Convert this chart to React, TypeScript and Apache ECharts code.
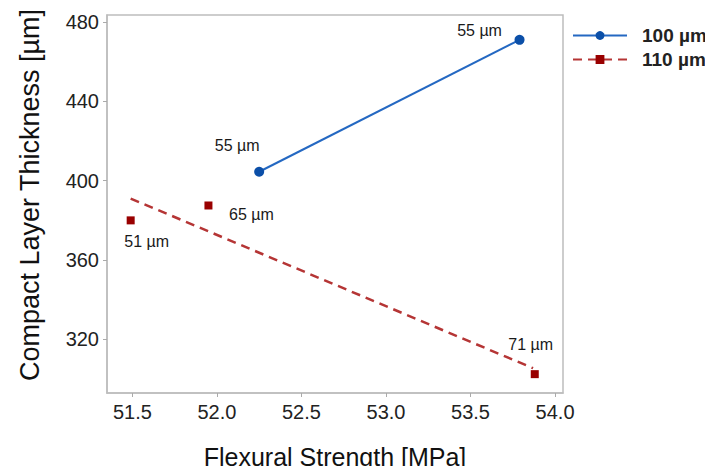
import React, { useEffect, useRef } from "react";
import * as echarts from "echarts";

const xTicks = [51.5, 52.0, 52.5, 53.0, 53.5, 54.0];
const yTicks = [320, 360, 400, 440, 480];

const series100Name = "100 µm";
const series110Name = "110 µm";

// 100 µm group: [flexural strength, compact layer thickness]
const points100: [number, number][] = [
  [52.25, 404.5],
  [53.79, 471],
];
const labels100 = ["55 µm", "55 µm"];

// 110 µm group
const points110: [number, number][] = [
  [51.49, 380],
  [51.95, 387.5],
  [53.88, 302.5],
];
const labels110 = ["51 µm", "65 µm", "71 µm"];

// 110 µm trend line end points
const trend110: [number, number][] = [
  [51.49, 391],
  [53.87, 305.5],
];

const FONT = "'Liberation Sans', Arial, Helvetica, sans-serif";

export default function App() {
  const ref = useRef<HTMLDivElement>(null);

  useEffect(() => {
    if (!ref.current) return;
    const chart = echarts.init(ref.current, undefined, { renderer: "svg" });

    const offs100: [number, number][] = [
      [-22, -26],
      [-40, -9],
    ];
    const offs110: [number, number][] = [
      [16, 21],
      [43, 9],
      [-4, -30],
    ];
    const labelBase = {
      show: true,
      position: "inside",
      fontSize: 16,
      color: "#1a1a1a",
      textBorderWidth: 0,
      textBorderColor: "transparent",
      fontFamily: FONT,
    };

    chart.setOption({
      animation: false,
      textStyle: { fontFamily: FONT },
      grid: {
        left: 107,
        top: 15,
        right: 150,
        bottom: 78,
        show: true,
        borderColor: "#bdbdbd",
        borderWidth: 1.5,
        backgroundColor: "#fff",
      },
      legend: {
        data: [series100Name, series110Name],
        orient: "vertical",
        left: 567,
        top: 21,
        itemWidth: 54,
        itemHeight: 11,
        itemGap: 5,
        textStyle: {
          fontSize: 19,
          fontWeight: "bold",
          color: "#222",
          fontFamily: FONT,
          padding: [0, 0, 0, 10],
        },
      },
      xAxis: {
        type: "value",
        min: 51.35,
        max: 54.047,
        name: "Flexural Strength [MPa]",
        nameLocation: "middle",
        nameGap: 51,
        nameTextStyle: { fontSize: 25, color: "#111", fontFamily: FONT },
        axisLine: { show: true, lineStyle: { color: "#bdbdbd", width: 1.5 } },
        axisTick: {
          show: true,
          length: 4,
          customValues: xTicks,
          lineStyle: { color: "#aaa" },
        },
        axisLabel: {
          customValues: xTicks,
          formatter: (v: number) => v.toFixed(1),
          fontSize: 20,
          color: "#222",
          margin: 9,
          fontFamily: FONT,
        },
        splitLine: { show: false },
      },
      yAxis: {
        type: "value",
        min: 293,
        max: 483.5,
        name: "Compact Layer Thickness [µm]",
        nameLocation: "middle",
        nameGap: 64,
        nameTextStyle: {
          fontSize: 27,
          color: "#111",
          fontFamily: FONT,
          padding: [0, 0, 0, 18],
        },
        axisLine: { show: true, lineStyle: { color: "#bdbdbd", width: 1.5 } },
        axisTick: {
          show: true,
          length: 4,
          customValues: yTicks,
          lineStyle: { color: "#aaa" },
        },
        axisLabel: {
          customValues: yTicks,
          fontSize: 20,
          color: "#222",
          margin: 8,
          fontFamily: FONT,
        },
        splitLine: { show: false },
      },
      series: [
        {
          name: series100Name,
          type: "line",
          symbol: "circle",
          symbolSize: 10,
          itemStyle: { color: "#0b4fa8" },
          lineStyle: { color: "#2468c2", width: 2 },
          data: points100.map((p, i) => ({
            value: p,
            label: { ...labelBase, formatter: labels100[i], offset: offs100[i] },
          })),
          z: 3,
        },
        {
          name: series110Name,
          type: "line",
          symbol: "rect",
          showSymbol: false,
          itemStyle: { color: "#990000" },
          lineStyle: { color: "#b53535", width: 2.5, type: [9, 6] },
          data: trend110,
          z: 2,
        },
        {
          name: series110Name,
          type: "scatter",
          symbol: "rect",
          symbolSize: 8,
          itemStyle: { color: "#990000", opacity: 1 },
          data: points110.map((p, i) => ({
            value: p,
            label: { ...labelBase, formatter: labels110[i], offset: offs110[i] },
          })),
          z: 3,
        },
      ],
    });

    return () => chart.dispose();
  }, []);

  return <div ref={ref} style={{ width: 713, height: 474, margin: -8 }} />;
}
